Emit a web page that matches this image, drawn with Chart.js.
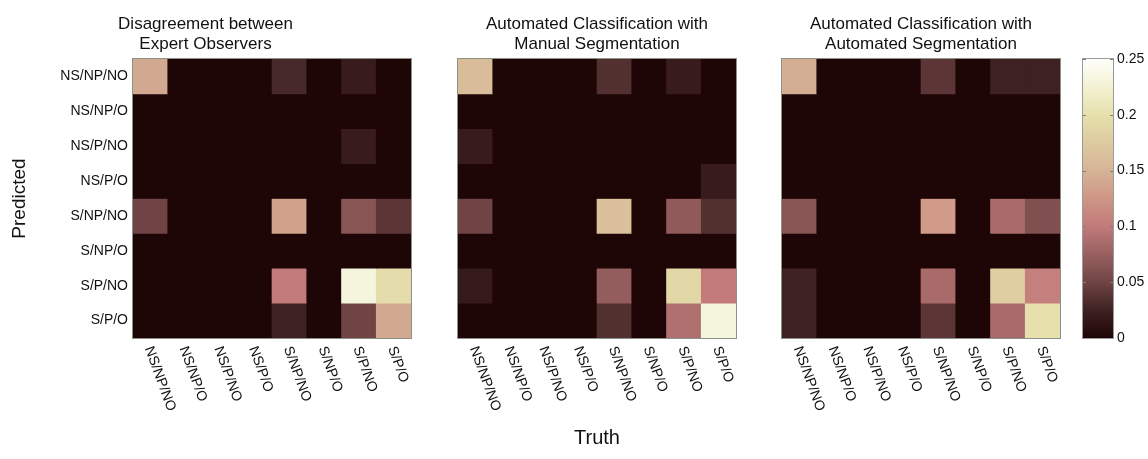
<!DOCTYPE html>
<html>
<head>
<meta charset="utf-8">
<script src="https://cdn.jsdelivr.net/npm/chart.js@4.4.1/dist/chart.umd.min.js"></script>
<style>
  html, body { margin: 0; padding: 0; background: #ffffff; }
  #stage { position: relative; width: 1148px; height: 459px; overflow: hidden; }
  #stage canvas { position: absolute; top: 0; }
</style>
</head>
<body>
<div id="stage">
  <canvas id="panelExpert" width="544" height="459" style="left:0px;width:544px;height:459px"></canvas>
  <canvas id="panelManual" width="518" height="459" style="left:338px;width:518px;height:459px"></canvas>
  <canvas id="panelAuto" width="398" height="459" style="left:722px;width:398px;height:459px"></canvas>
  <canvas id="colorbar" width="88" height="459" style="left:1060px;width:88px;height:459px"></canvas>
</div>
<script>
// Class labels shared by the predicted rows and the truth columns
const classes = ['NS/NP/NO', 'NS/NP/O', 'NS/P/NO', 'NS/P/O', 'S/NP/NO', 'S/NP/O', 'S/P/NO', 'S/P/O'];

// Confusion rates, rows = predicted class, columns = true class
const expertDisagreement = [
  [0.14,  0, 0, 0, 0.03,  0, 0.02,  0],
  [0,     0, 0, 0, 0,     0, 0,     0],
  [0,     0, 0, 0, 0,     0, 0.02,  0],
  [0,     0, 0, 0, 0,     0, 0,     0],
  [0.05,  0, 0, 0, 0.135, 0, 0.065, 0.04],
  [0,     0, 0, 0, 0,     0, 0,     0],
  [0,     0, 0, 0, 0.1,   0, 0.23,  0.195],
  [0,     0, 0, 0, 0.025, 0, 0.05,  0.14]
];
const manualSegmentation = [
  [0.16,  0, 0, 0, 0.035, 0, 0.02,  0],
  [0,     0, 0, 0, 0,     0, 0,     0],
  [0.02,  0, 0, 0, 0,     0, 0,     0],
  [0,     0, 0, 0, 0,     0, 0,     0.02],
  [0.05,  0, 0, 0, 0.165, 0, 0.07,  0.035],
  [0,     0, 0, 0, 0,     0, 0,     0],
  [0.018, 0, 0, 0, 0.072, 0, 0.19,  0.1],
  [0,     0, 0, 0, 0.035, 0, 0.09,  0.23]
];
const automatedSegmentation = [
  [0.145, 0, 0, 0, 0.04,  0, 0.025, 0.025],
  [0,     0, 0, 0, 0,     0, 0,     0],
  [0,     0, 0, 0, 0,     0, 0,     0],
  [0,     0, 0, 0, 0,     0, 0,     0],
  [0.065, 0, 0, 0, 0.13,  0, 0.085, 0.06],
  [0,     0, 0, 0, 0,     0, 0,     0],
  [0.025, 0, 0, 0, 0.085, 0, 0.18,  0.105],
  [0.025, 0, 0, 0, 0.04,  0, 0.085, 0.2]
];

const colorbarTicks = [0, 0.05, 0.1, 0.15, 0.2, 0.25];
const colorMax = 0.25;

// Colormap stops: [value, r, g, b]
const colorStops = [
  [0.000,  30,   5,   6],
  [0.025,  62,  34,  34],
  [0.050, 112,  68,  68],
  [0.075, 152,  96,  96],
  [0.100, 194, 122, 122],
  [0.125, 206, 150, 134],
  [0.150, 214, 180, 150],
  [0.175, 221, 202, 160],
  [0.200, 230, 224, 172],
  [0.225, 243, 241, 212],
  [0.250, 255, 255, 252]
];

const FONT = '"Liberation Sans", Arial, Helvetica, sans-serif';

function colorFor(v) {
  const t = Math.max(0, Math.min(colorMax, v));
  for (let i = 1; i < colorStops.length; i++) {
    const a = colorStops[i - 1], b = colorStops[i];
    if (t <= b[0]) {
      const f = (t - a[0]) / (b[0] - a[0]);
      const c = [1, 2, 3].map(k => Math.round(a[k] + (b[k] - a[k]) * f));
      return `rgb(${c[0]},${c[1]},${c[2]})`;
    }
  }
  const l = colorStops[colorStops.length - 1];
  return `rgb(${l[1]},${l[2]},${l[3]})`;
}

// Dark base under the cells plus a thin axes box
const axesBox = {
  id: 'axesBox',
  beforeDatasetsDraw(chart) {
    const { ctx, chartArea: a } = chart;
    ctx.save();
    ctx.fillStyle = colorFor(0);
    ctx.fillRect(a.left, a.top, a.right - a.left, a.bottom - a.top);
    ctx.restore();
  },
  afterDatasetsDraw(chart) {
    const { ctx, chartArea: a } = chart;
    ctx.save();
    ctx.strokeStyle = '#8c9288';
    ctx.lineWidth = 1;
    ctx.strokeRect(Math.round(a.left) - 0.5, Math.round(a.top) - 0.5,
                   Math.round(a.right - a.left) + 1, Math.round(a.bottom - a.top) + 1);
    ctx.restore();
  }
};

// Truth class labels under each column, slanted downward to the right
const truthLabels = {
  id: 'truthLabels',
  afterDraw(chart, args, opts) {
    const { ctx, chartArea: a, scales } = chart;
    ctx.save();
    ctx.fillStyle = '#111';
    ctx.font = `14px ${FONT}`;
    ctx.textAlign = 'left';
    ctx.textBaseline = 'middle';
    classes.forEach((label, i) => {
      const x = scales.x.getPixelForValue(i);
      ctx.save();
      ctx.translate(x - 2, a.bottom + 9);
      ctx.rotate(70 * Math.PI / 180);
      ctx.fillText(label, 0, 0);
      ctx.restore();
    });
    if (opts.axisTitle) {
      ctx.font = `20px ${FONT}`;
      ctx.textAlign = 'center';
      ctx.fillText(opts.axisTitle, (a.left + a.right) / 2, 438);
    }
    ctx.restore();
  }
};

function heatmap(canvasId, titleLines, matrix, opts) {
  // one floating-bar dataset per predicted row, spanning [row, row + 1]
  const datasets = classes.map((rowName, r) => ({
    label: rowName,
    data: classes.map(() => [r, r + 1]),
    backgroundColor: matrix[r].map(colorFor),
    borderWidth: 0,
    barPercentage: 1,
    categoryPercentage: 1,
    grouped: false
  }));
  return new Chart(document.getElementById(canvasId), {
    type: 'bar',
    data: { labels: classes, datasets },
    plugins: [axesBox, truthLabels],
    options: {
      responsive: false,
      animation: false,
      events: [],
      layout: { padding: { left: opts.padLeft, right: opts.padRight, top: 0, bottom: 121 } },
      plugins: {
        legend: { display: false },
        tooltip: { enabled: false },
        title: {
          display: true,
          text: titleLines,
          color: '#111',
          font: { family: FONT, size: 17, weight: 'normal', lineHeight: 1.15 },
          padding: { top: 15, bottom: 4.9 }
        },
        truthLabels: { axisTitle: opts.axisTitle || null }
      },
      scales: {
        x: { type: 'category', display: false, offset: true },
        y: {
          type: 'linear',
          reverse: true,
          min: 0,
          max: classes.length,
          display: !!opts.showRows,
          grid: { display: false, drawTicks: false },
          border: { display: false },
          afterBuildTicks(scale) {
            scale.ticks = classes.map((_, i) => ({ value: i + 0.5 }));
          },
          afterFit(scale) { if (opts.showRows) scale.width = 133; },
          ticks: {
            color: '#111',
            padding: 5,
            autoSkip: false,
            font: { family: FONT, size: 14 },
            callback: (value, index) => classes[index]
          },
          title: {
            display: !!opts.showRows,
            text: 'Predicted',
            color: '#111',
            font: { family: FONT, size: 19 },
            padding: { top: 8, bottom: 0 }
          }
        }
      }
    }
  });
}

heatmap('panelExpert', ['Disagreement between', 'Expert Observers'], expertDisagreement,
        { padLeft: 0, padRight: 133, showRows: true });
heatmap('panelManual', ['Automated Classification with', 'Manual Segmentation'], manualSegmentation,
        { padLeft: 120, padRight: 120, axisTitle: 'Truth' });
heatmap('panelAuto', ['Automated Classification with', 'Automated Segmentation'], automatedSegmentation,
        { padLeft: 60, padRight: 60 });

// Colour scale bar
const colorbarFrame = {
  id: 'colorbarFrame',
  afterDatasetsDraw(chart) {
    const { ctx, chartArea: a, scales } = chart;
    ctx.save();
    ctx.strokeStyle = '#7d7d7d';
    ctx.lineWidth = 1;
    ctx.beginPath();
    colorbarTicks.forEach(v => {
      const y = Math.round(scales.y.getPixelForValue(v)) + 0.5;
      ctx.moveTo(a.left, y); ctx.lineTo(a.left + 3, y);
      ctx.moveTo(a.right - 3, y); ctx.lineTo(a.right, y);
    });
    ctx.stroke();
    ctx.strokeStyle = '#9a9a9a';
    ctx.strokeRect(Math.round(a.left) - 0.5, Math.round(a.top) - 0.5,
                   Math.round(a.right - a.left) + 1, Math.round(a.bottom - a.top) + 1);
    ctx.restore();
  }
};

new Chart(document.getElementById('colorbar'), {
  type: 'bar',
  data: {
    labels: [''],
    datasets: [{
      data: [[0, colorMax]],
      borderWidth: 0,
      barPercentage: 1,
      categoryPercentage: 1,
      backgroundColor(ctx) {
        const chart = ctx.chart;
        if (!chart.chartArea) return colorFor(0);
        const y = chart.scales.y;
        const g = chart.ctx.createLinearGradient(0, y.getPixelForValue(0), 0, y.getPixelForValue(colorMax));
        colorStops.forEach(s => g.addColorStop(s[0] / colorMax, `rgb(${s[1]},${s[2]},${s[3]})`));
        return g;
      }
    }]
  },
  plugins: [colorbarFrame],
  options: {
    responsive: false,
    animation: false,
    events: [],
    layout: { padding: { left: 23, right: 0, top: 59, bottom: 121 } },
    plugins: { legend: { display: false }, tooltip: { enabled: false } },
    scales: {
      x: { display: false, offset: true },
      y: {
        position: 'right',
        min: 0,
        max: colorMax,
        grid: { display: false, drawTicks: false },
        border: { display: false },
        afterBuildTicks(scale) { scale.ticks = colorbarTicks.map(v => ({ value: v })); },
        afterFit(scale) { scale.width = 35; },
        ticks: {
          color: '#111',
          padding: 4,
          font: { family: FONT, size: 14 },
          callback: v => String(+v.toFixed(2))
        }
      }
    }
  }
});
</script>
</body>
</html>
